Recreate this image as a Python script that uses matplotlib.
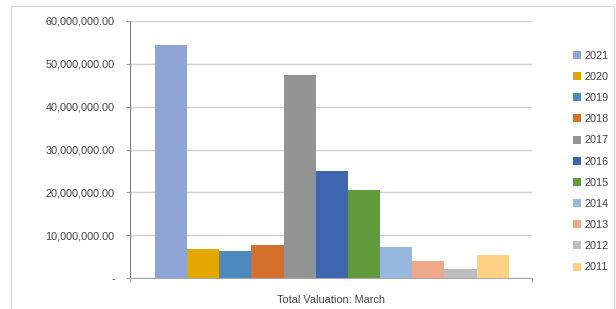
import numpy as np
import matplotlib.pyplot as plt
from matplotlib.patches import Rectangle, Patch

years = ['2021', '2020', '2019', '2018', '2017', '2016', '2015', '2014', '2013', '2012', '2011']
values = [54.4e6, 6.8e6, 6.3e6, 7.7e6, 47.4e6, 25.0e6, 20.5e6, 7.2e6, 4.0e6, 2.1e6, 5.4e6]
colors = ['#8FA5D5', '#E2A800', '#4E89BE', '#D4702C', '#939393', '#3D66AE',
          '#629A3E', '#97B8DF', '#F0A88A', '#BEBEBE', '#FED184']
yticks = [0, 10e6, 20e6, 30e6, 40e6, 50e6, 60e6]
ytick_labels = ['-', '10,000,000.00', '20,000,000.00', '30,000,000.00',
                '40,000,000.00', '50,000,000.00', '60,000,000.00']

plt.rcParams['font.family'] = ['Liberation Sans', 'DejaVu Sans']

fig = plt.figure(figsize=(6.16, 3.09), dpi=100)
fig.patches.append(Rectangle((11/616, -0.01), (614-11)/616, 1 - 6/309 + 0.01,
                             transform=fig.transFigure, fill=False,
                             edgecolor='#D9D9D9', linewidth=1))
ax = fig.add_axes([130/616, 31/309, 402/616, 257/309])

x = np.arange(len(years))
ax.bar(x, values, width=1.0, color=colors, zorder=3)

ax.set_xlim(-1.27, 11.22)
ax.set_ylim(0, 60e6)
ax.set_yticks(yticks)
ax.set_yticklabels(ytick_labels, fontsize=7.8, color='#404040')
ax.set_xticks([-1.27, 11.22])
ax.set_xticklabels(['', ''])
ax.tick_params(axis='y', length=3, color='#A6A6A6', pad=8)
ax.tick_params(axis='x', length=3, color='#A6A6A6')
ax.yaxis.grid(True, color='#D0D0D0', linewidth=1, zorder=0)
ax.set_axisbelow(True)

for s in ['top', 'right']:
    ax.spines[s].set_visible(False)
ax.spines['left'].set_color('#7F7F7F')
ax.spines['bottom'].set_color('#A6A6A6')

ax.set_xlabel('Total Valuation: March', fontsize=7.8, color='#404040', labelpad=6)

handles = [Patch(facecolor=c, label=y) for c, y in zip(colors, years)]
fig.legend(handles=handles, loc='upper left', bbox_to_anchor=(563/616, 1 - 41/309),
           frameon=False, fontsize=7.8, handlelength=0.75, handleheight=0.75,
           handletextpad=0.3, labelspacing=1.03, labelcolor='#404040')

fig.savefig('out.png', dpi=100)
